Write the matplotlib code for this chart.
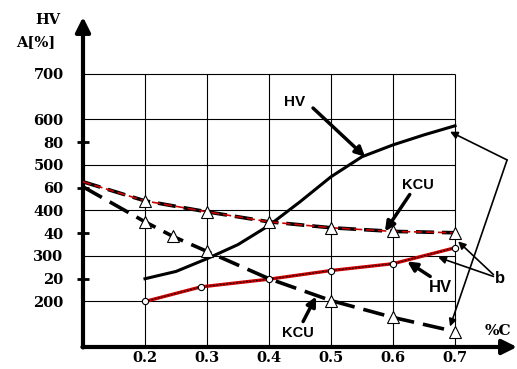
import matplotlib.pyplot as plt
import numpy as np

# %C values and readings
hv_x = [0.2, 0.25, 0.3, 0.35, 0.4, 0.45, 0.5, 0.55, 0.6, 0.65, 0.7]
hv_a = [250, 266, 294, 325, 367, 419, 474, 518, 544, 566, 586]

hv_b_x = [0.2, 0.29, 0.4, 0.5, 0.6, 0.7]
hv_b = [200, 232, 249, 268, 283, 318]

kcu_b_x = [0.1, 0.2, 0.3, 0.4, 0.5, 0.6, 0.7]
kcu_b = [62.6, 54.2, 49.4, 45, 42.4, 40.8, 40.2]

kcu_a_x = [0.1, 0.2, 0.245, 0.3, 0.4, 0.5, 0.6, 0.7]
kcu_a = [60.4, 45, 38.6, 32, 20, 10.4, 3, -3.2]

hv_ticks = [200, 300, 400, 500, 600, 700]
a_ticks = [20, 40, 60, 80]
x_ticks = [0.2, 0.3, 0.4, 0.5, 0.6, 0.7]

serif = 'DejaVu Serif'
sans = 'Liberation Sans'

def hv2a(v):
    return (np.asarray(v) - 150) / 5.0

def a2hv(v):
    return np.asarray(v) * 5.0 + 150

fig = plt.figure(figsize=(5.17, 3.69), dpi=100)
ax = fig.add_axes([83/517, 1 - 347/369, 434/517, 330/369])
ax.set_xlim(0.1, 0.8)
ax.set_ylim(100, 825)
for s in ax.spines.values():
    s.set_visible(False)

# grid
ax.vlines(x_ticks, 100, 700, color='k', lw=0.8)
ax.hlines(hv_ticks, 0.1, 0.7, color='k', lw=0.8)

# axes with arrows
ax.annotate('', xy=(0.1, 825), xytext=(0.1, 99), xycoords='data',
            arrowprops=dict(arrowstyle='-|>', lw=3, color='k', mutation_scale=22,
                            shrinkA=0, shrinkB=0), annotation_clip=False)
ax.annotate('', xy=(0.8, 100), xytext=(0.099, 100), xycoords='data',
            arrowprops=dict(arrowstyle='-|>', lw=3, color='k', mutation_scale=22,
                            shrinkA=0, shrinkB=0), annotation_clip=False)

ax.set_xticks(x_ticks)
ax.set_xticklabels([str(v) for v in x_ticks], fontfamily=serif, fontweight='bold', fontsize=10.5)
ax.set_yticks(hv_ticks)
ax.set_yticklabels([str(v) for v in hv_ticks], fontfamily=serif, fontweight='bold', fontsize=10.5)
ax.tick_params(axis='both', length=0)
ax.tick_params(axis='x', pad=3)
ax.tick_params(axis='y', pad=14)

sec = ax.secondary_yaxis('left', functions=(hv2a, a2hv))
sec.spines['left'].set_visible(False)
sec.set_yticks(a_ticks)
sec.set_yticklabels([str(v) for v in a_ticks], fontfamily=serif, fontweight='bold', fontsize=10.5)
sec.tick_params(axis='y', direction='inout', length=8, width=2, pad=10)

ax2 = ax.twinx()
ax2.set_ylim(hv2a(100), hv2a(825))
ax2.set_yticks([])
for s in ax2.spines.values():
    s.set_visible(False)

# HV solid curve
ax.plot(hv_x, hv_a, color='k', lw=2.2, zorder=3)
# HV red curve (b)
ax.plot(hv_b_x, hv_b, color='#cc0000', lw=2.4, zorder=3)
ax.plot(hv_b_x, hv_b, color='k', lw=0.8, ls=(0, (1.5, 1.5)), zorder=3)
ax.plot(hv_b_x, hv_b, ls='none', marker='o', ms=4.5, mfc='white', mec='k', mew=0.8, zorder=5)

# KCU red dashed (b)
ax2.plot(kcu_b_x, kcu_b, color='k', lw=2.6, ls=(0, (5, 2.2)), zorder=3)
ax2.plot(kcu_b_x, kcu_b, color='#cc0000', lw=1.2, ls=(0, (5, 2.2)), zorder=3)
ax2.plot(kcu_b_x[1:], kcu_b[1:], ls='none', marker='^', ms=9, mfc='white', mec='k', mew=0.8, zorder=5)

# KCU black dashed
ax2.plot(kcu_a_x, kcu_a, color='k', lw=2.6, ls=(0, (6, 2.5)), zorder=3)
tri = [i for i in range(1, len(kcu_a_x)) if kcu_a_x[i] != 0.4]
ax2.plot([kcu_a_x[i] for i in tri], [kcu_a[i] for i in tri], ls='none', marker='^', ms=9,
         mfc='white', mec='k', mew=0.8, zorder=5)

thick = dict(arrowstyle='-|>', lw=2.5, color='k', mutation_scale=14, shrinkA=0, shrinkB=0)
thin = dict(arrowstyle='-|>', lw=1.2, color='k', mutation_scale=11, shrinkA=0, shrinkB=0)

ax.text(0.442, 639, 'HV', fontfamily=sans, fontweight='bold', fontsize=11, ha='center', va='center')
ax.annotate('', xy=(0.555, 518), xytext=(0.471, 625), arrowprops=thick)
ax.text(0.640, 457, 'KCU', fontfamily=sans, fontweight='bold', fontsize=10.5, ha='center', va='center')
ax.annotate('', xy=(0.587, 354), xytext=(0.627, 435), arrowprops=thick)
ax.text(0.676, 231, 'HV', fontfamily=sans, fontweight='bold', fontsize=12, ha='center', va='center')
ax.annotate('', xy=(0.623, 288), xytext=(0.660, 255), arrowprops=thick)
ax.text(0.447, 130, 'KCU', fontfamily=sans, fontweight='bold', fontsize=10.5, ha='center', va='center')
ax.annotate('', xy=(0.476, 211), xytext=(0.455, 156), arrowprops=thick)

ax.text(0.773, 250, 'b', fontfamily=sans, fontweight='bold', fontsize=12, ha='center', va='center')
ax.annotate('', xy=(0.705, 332), xytext=(0.762, 259), arrowprops=thin)
ax.annotate('', xy=(0.673, 297), xytext=(0.762, 255), arrowprops=thin)
ax.annotate('', xy=(0.692, 573), xytext=(0.784, 511), arrowprops=thin, annotation_clip=False)
ax.annotate('', xy=(0.692, 145), xytext=(0.784, 511), arrowprops=thin, annotation_clip=False)

ax.text(0.769, 136, '%C', fontfamily=serif, fontweight='bold', fontsize=11, ha='center', va='center')

fig.text(48/517, 1 - 20/369, 'HV', fontfamily=serif, fontweight='bold', fontsize=10.5, ha='center', va='center')
fig.text(36/517, 1 - 42/369, 'A[%]', fontfamily=serif, fontweight='bold', fontsize=10.5, ha='center', va='center')

fig.savefig('out.png', dpi=100)
